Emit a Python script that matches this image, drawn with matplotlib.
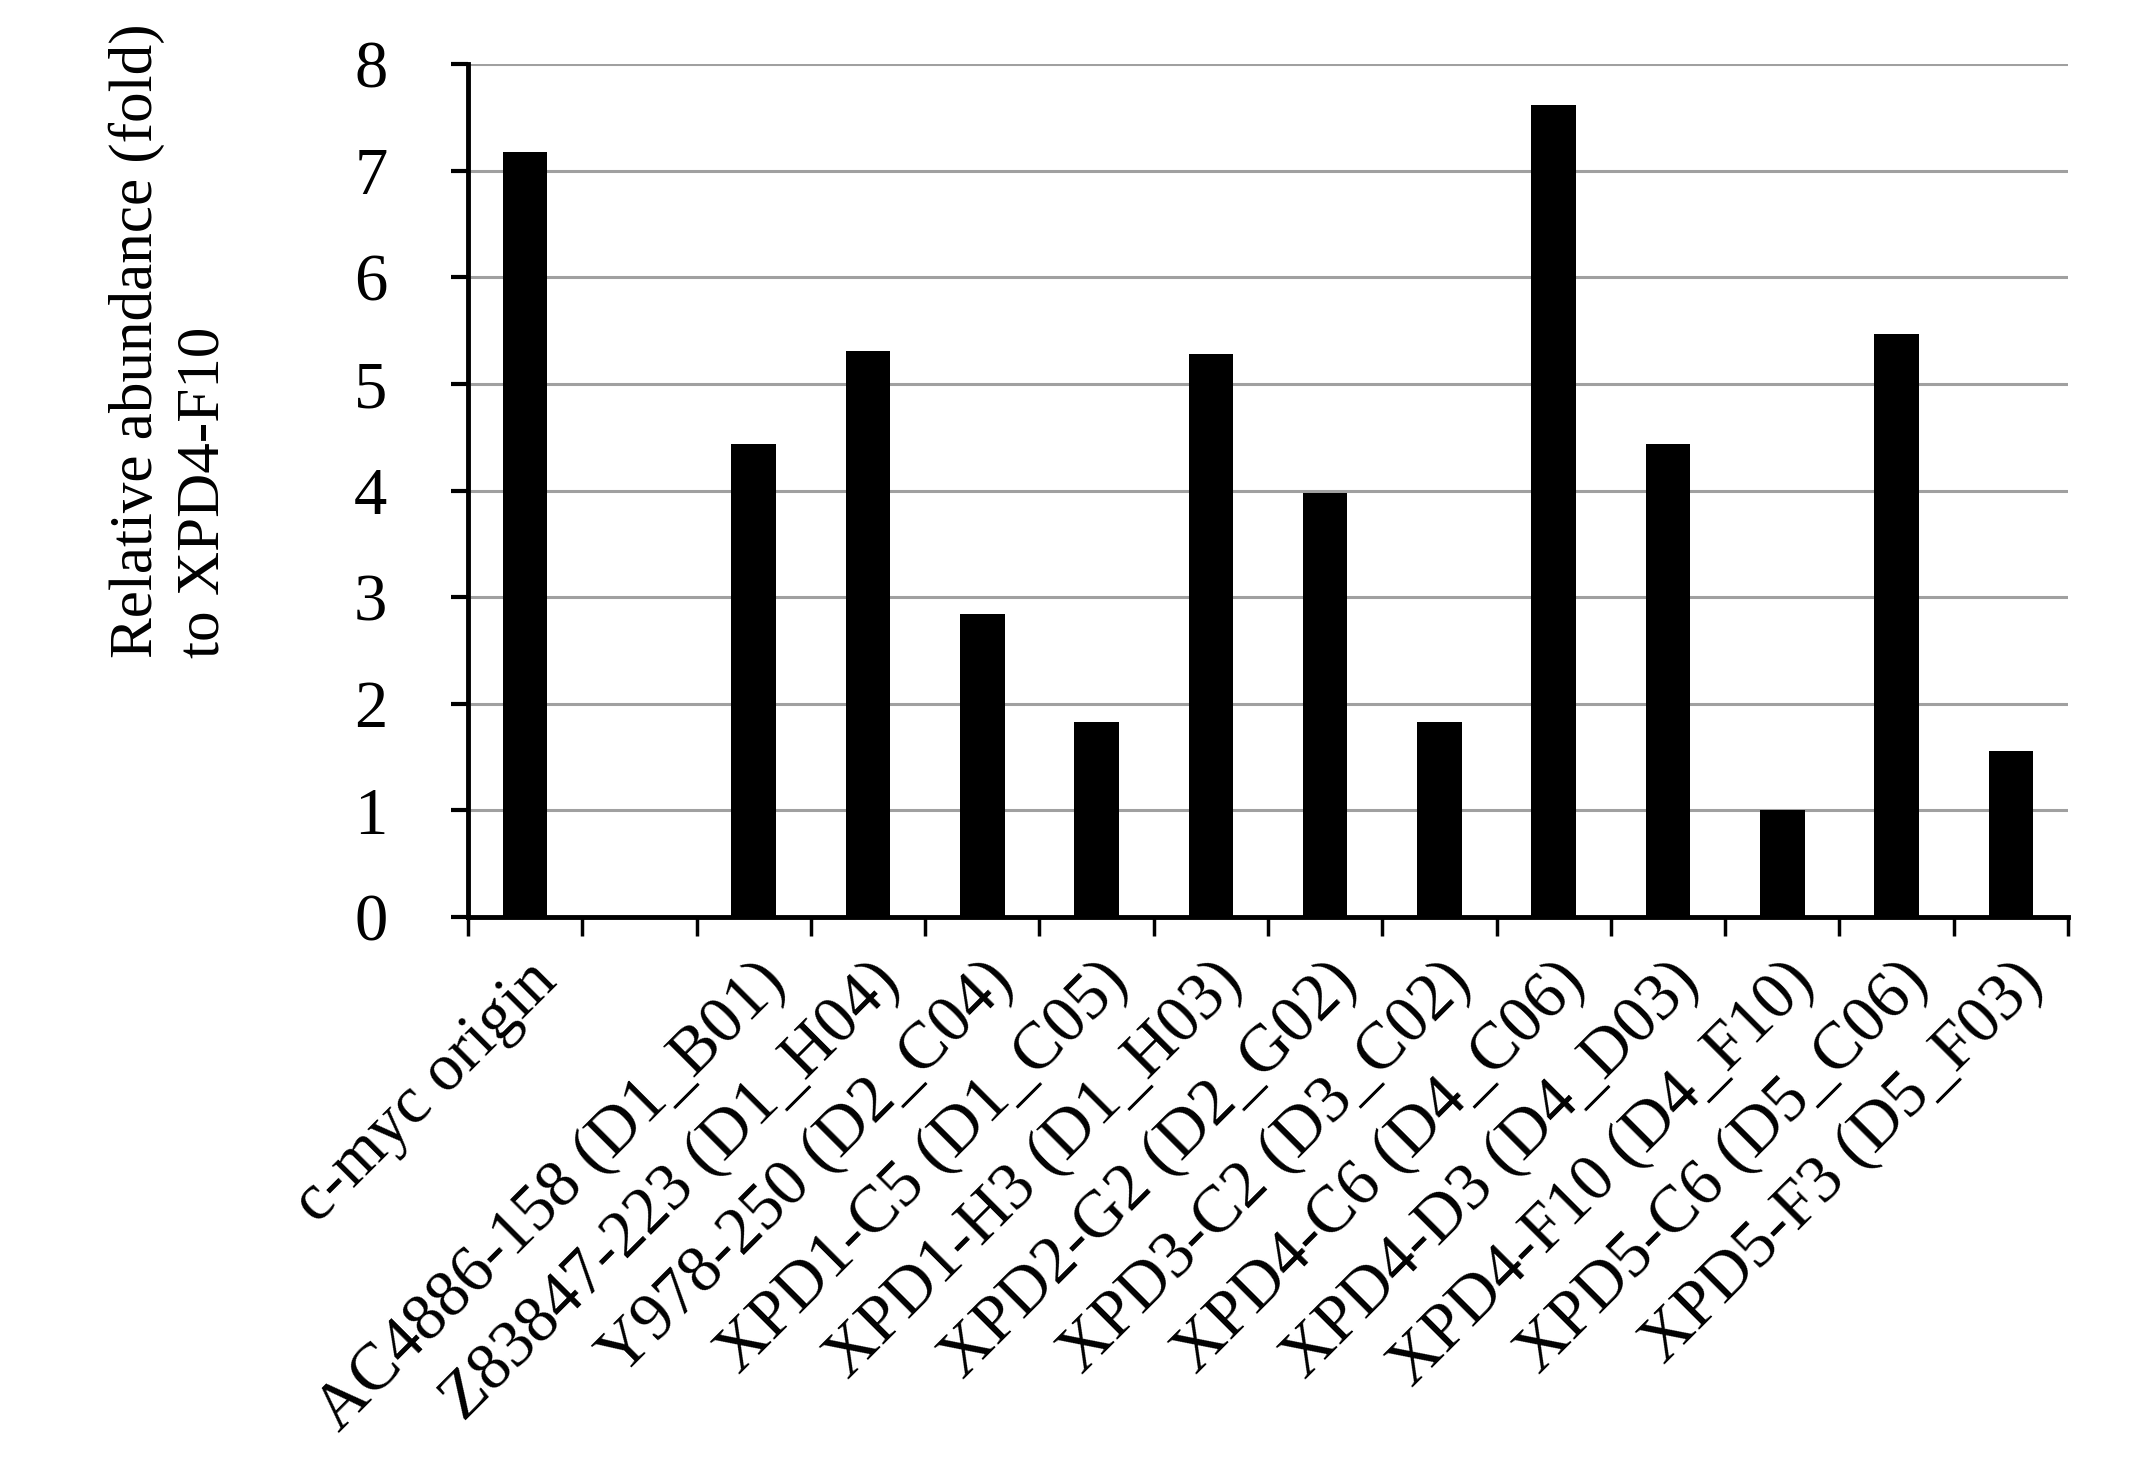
import numpy as np
import matplotlib.pyplot as plt

labels = ['c-myc origin', '', 'AC4886-158 (D1_B01)', 'Z83847-223 (D1_H04)',
          'Y978-250 (D2_C04)', 'XPD1-C5 (D1_C05)', 'XPD1-H3 (D1_H03)',
          'XPD2-G2 (D2_G02)', 'XPD3-C2 (D3_C02)', 'XPD4-C6 (D4_C06)',
          'XPD4-D3 (D4_D03)', 'XPD4-F10 (D4_F10)', 'XPD5-C6 (D5_C06)',
          'XPD5-F3 (D5_F03)']
values = [7.17, 0.0, 4.44, 5.31, 2.84, 1.83, 5.28, 3.98, 1.83, 7.62,
          4.44, 1.0, 5.47, 1.56]
yticks = [0, 1, 2, 3, 4, 5, 6, 7, 8]

plt.rcParams['font.family'] = ['Liberation Serif', 'DejaVu Serif']

fig = plt.figure(figsize=(21.39, 14.84), dpi=100)
ax = fig.add_axes([468 / 2139, 1 - 917 / 1484, (2068 - 468) / 2139, (917 - 64) / 1484])

x = np.arange(len(values))
ax.bar(x, values, width=0.39, color='black', zorder=3)

ax.set_xlim(-0.5, len(values) - 0.5)
ax.set_ylim(0, 8)
ax.set_yticks(yticks)
ax.yaxis.grid(True, color='#a0a0a0', linewidth=2.2, zorder=0)

ax.set_xticks(x)
ax.set_xticklabels(labels, rotation=45, ha='right', va='top',
                   rotation_mode='anchor', fontsize=48)
ax.tick_params(axis='x', which='major', length=0, pad=24)
ax.set_xticks(np.arange(-0.5, len(values)), minor=True)
ax.tick_params(axis='x', which='minor', direction='out', length=14, width=2.5)
ax.tick_params(axis='y', direction='out', length=12, width=3, labelsize=48, pad=46)

for side in ['top', 'right']:
    ax.spines[side].set_visible(False)
ax.spines['left'].set_linewidth(3.5)
ax.spines['bottom'].set_linewidth(3.5)

fig.text(170 / 2139, 1 - 341 / 1484, 'Relative abundance (fold)\nto XPD4-F10',
         rotation=90, ha='center', va='center', multialignment='left',
         fontsize=44, linespacing=1.25)

fig.savefig('out.png', dpi=100)
